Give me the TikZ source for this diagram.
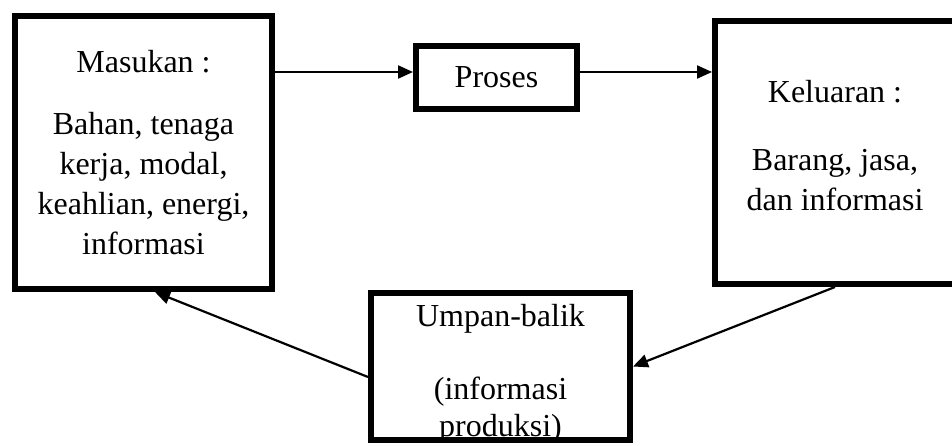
\documentclass[tikz,border=0pt]{standalone}
\usepackage{fontspec}
\setmainfont{Liberation Serif}
\usetikzlibrary{arrows.meta}

\begin{document}
\begin{tikzpicture}[x=0.5pt,y=0.5pt,
   kotak/.style={draw, line width=3pt, inner sep=0pt, align=center,
      font=\fontsize{16pt}{20pt}\selectfont},
   teks/.style={inner sep=0pt, align=center, font=\fontsize{16pt}{18.5pt}\selectfont},
   panah/.style={line width=1.1pt, -{Triangle[length=7.5pt,width=6.5pt]}}]
   \useasboundingbox (0,0) rectangle (952,445);
   % kotak-kotak
   \node[kotak, minimum width=128.5pt, minimum height=136.5pt] (masukan) at (143.5,292.5)
      {Masukan :\\[11pt]Bahan, tenaga\\kerja, modal,\\keahlian, energi,\\informasi};
   \node[kotak, minimum width=80.5pt, minimum height=31.5pt] (proses) at (496.5,367.5) {Proses};
   \node[kotak, minimum width=120pt, minimum height=131.5pt] (keluaran) at (835,292.5)
      {Keluaran :\\[14pt]Barang, jasa,\\dan informasi\\[-13pt]\mbox{}};
   \node[kotak, minimum width=129.5pt, minimum height=73.5pt] (umpan) at (500.5,78.5) {};
   \node[teks, anchor=north] (umpanteks) at ([yshift=-7pt]umpan.north)
      {Umpan-balik\\[18pt](informasi\\produksi)};
   % panah
   \draw[panah] ([yshift=2.75pt]proses.west -| masukan.east) -- ([yshift=2.75pt]proses.west);
   \draw[panah] ([yshift=2.75pt]proses.east) -- ([yshift=2.75pt]proses.east -| keluaran.west);
   \draw[panah] (keluaran.south) -- (umpan.east);
   \draw[panah] ([yshift=-5.25pt]umpan.west) -- ([xshift=5.75pt]masukan.south);
\end{tikzpicture}
\end{document}
